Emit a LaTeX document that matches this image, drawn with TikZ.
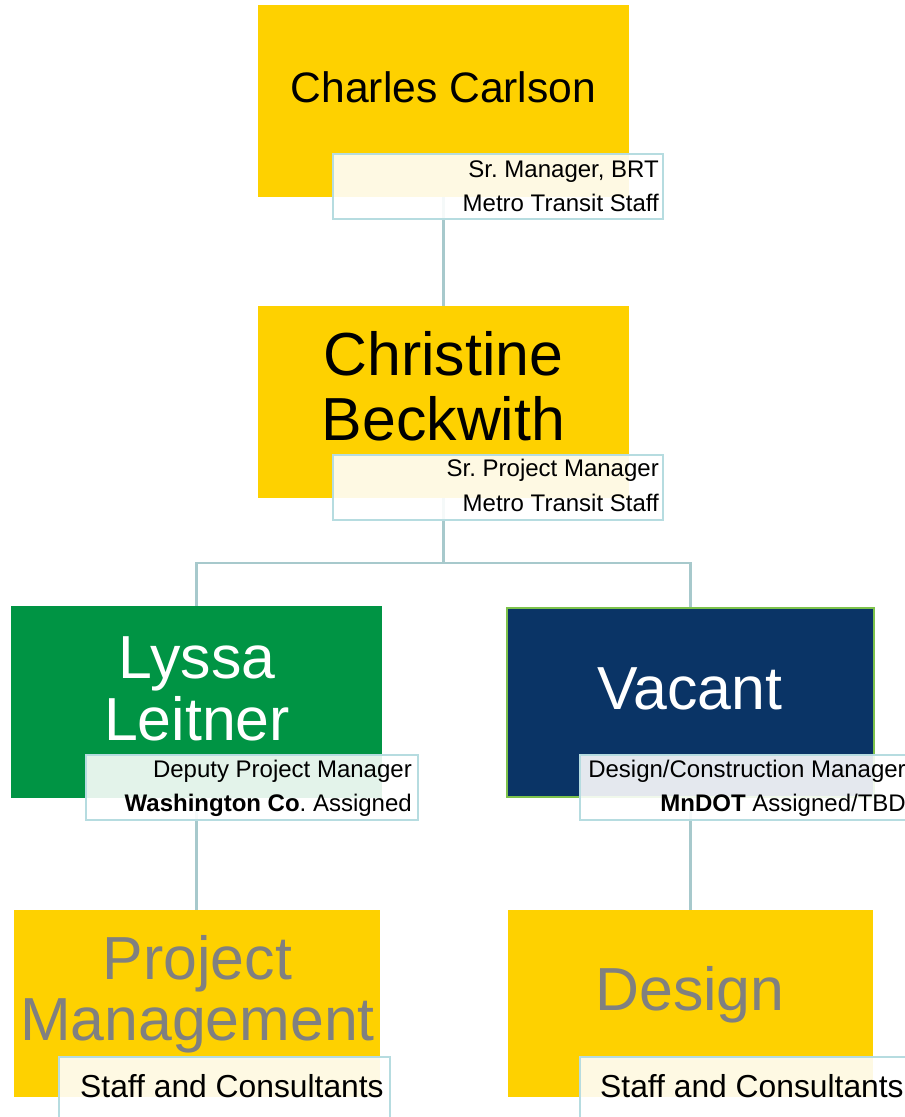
\documentclass[tikz,border=0pt]{standalone}
\usepackage{fontspec}
\setmainfont{Liberation Sans}
\frenchspacing
\definecolor{ylw}{HTML}{FED100}
\definecolor{grn}{HTML}{009444}
\definecolor{navy}{HTML}{0A3466}
\definecolor{vborder}{HTML}{7DC24B}
\definecolor{lblborder}{HTML}{B6DCE0}
\definecolor{linec}{HTML}{A7C9CC}
\definecolor{gtext}{HTML}{808080}
\begin{document}
\frenchspacing
\begin{tikzpicture}[x=1pt,y=-1pt,
  box/.style={rectangle, inner sep=0pt, draw=none, minimum height=192pt, minimum width=370pt},
  ybox/.style={box, fill=ylw},
  lbl/.style={rectangle, inner sep=0pt, draw=lblborder, line width=2pt, fill=white, fill opacity=0.89, minimum height=65pt, minimum width=330pt},
  conn/.style={draw=linec, line width=2.6pt},
  bigname/.style={inner sep=0pt, anchor=base, font=\fontsize{60.8}{64}\selectfont},
  small/.style={inner sep=0pt, font=\fontsize{24}{28}\selectfont\frenchspacing, text=black},
  staff/.style={inner sep=0pt, anchor=base west, font=\fontsize{31.8}{36}\selectfont, text=black}]
\useasboundingbox (0,0) rectangle (905,1117);
\fill[white] (0,0) rectangle (905,1117);

% boxes
\node[ybox, minimum width=371pt] (n1) at (443.5,101) {};
\node[ybox, minimum width=371pt] (n2) at (443.5,402) {};
\node[box, fill=grn, minimum width=370.5pt] (n3) at (196.25,702) {};
\node[box, fill=navy, draw=vborder, line width=2pt, minimum width=367pt, minimum height=189pt] (n4) at (690.5,702.5) {};
\node[ybox, minimum width=366pt, minimum height=187pt] (n5) at (197,1003.5) {};
\node[ybox, minimum width=365pt, minimum height=187pt] (n6) at (690.5,1003.5) {};

% connectors
\coordinate (fork) at (443.5,563);
\draw[conn] (n1.south) -- (n2.north);
\draw[conn] (n2.south) -- (fork) -| (n3.north);
\draw[conn] (fork) -| (n4.north);
\draw[conn] (n3.south) -- (n3.south |- n5.north);
\draw[conn] (n4.south) -- (n6.north);

% labels
\node[lbl] (l1) at (498,186.5) {};
\node[lbl] (l2) at (498,487.5) {};
\node[lbl, minimum width=332pt] (l3) at (252,787.5) {};
\node[lbl] (l4) at (745,787) {};
\node[lbl, minimum width=331pt, minimum height=83pt] (l5) at (224.5,1098.5) {};
\node[lbl, minimum height=83pt] (l6) at (745,1098.5) {};

% texts
\node[inner sep=0pt, anchor=base, font=\fontsize{42.6}{46}\selectfont] (t1) at (443.5,102) {Charles Carlson};
\node[small, anchor=base east] (l1a) at (659,177) {Sr. Manager, BRT};
\node[small, anchor=base east] (l1b) at (659,211) {Metro Transit Staff};

\node[bigname] (t2a) at (443.5,375) {Christine};
\node[bigname] (t2b) at (443.5,440) {Beckwith};
\node[small, anchor=base east] (l2a) at (659,476) {Sr. Project Manager};
\node[small, anchor=base east] (l2b) at (659,511.5) {Metro Transit Staff};

\node[bigname, text=white] (t3a) at (197,678) {Lyssa};
\node[bigname, text=white] (t3b) at (197,740) {Leitner};
\node[small, anchor=base east] (l3a) at (412,777) {Deputy Project Manager};
\node[small, anchor=base east] (l3b) at (412,811.5) {\textbf{Washington Co}. Assigned};

\node[bigname, text=white] (t4) at (690,709) {Vacant};
\node[small, anchor=base east] (l4a) at (906,777) {Design/Construction Manager};
\node[small, anchor=base east] (l4b) at (906,811.5) {\textbf{MnDOT} Assigned/TBD};

\node[bigname, text=gtext] (t5a) at (197.5,979) {Project};
\node[bigname, text=gtext] (t5b) at (197.5,1040) {Management};
\node[staff] (l5a) at (80,1097.5) {Staff and Consultants};

\node[bigname, text=gtext] (t6) at (690,1010) {Design};
\node[staff] (l6a) at (600,1097.5) {Staff and Consultants};
\end{tikzpicture}
\end{document}
